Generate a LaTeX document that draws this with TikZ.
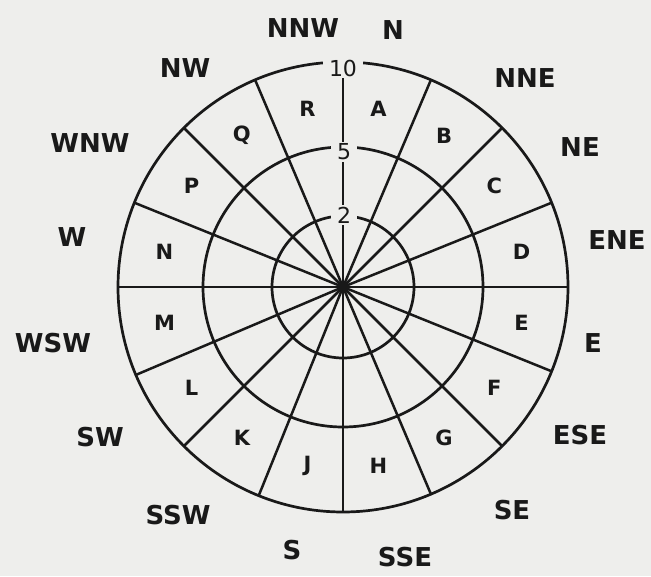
\documentclass[tikz,border=0pt]{standalone}
\usepackage{fontspec}
\setmainfont{DejaVu Sans}
\definecolor{bg}{RGB}{238,238,236}
\definecolor{ink}{RGB}{25,25,25}
\begin{document}
\begin{tikzpicture}[x=1pt,y=-1pt,
  ring/.style={draw=ink,line width=2.7pt,circle,inner sep=0pt,outer sep=0pt,minimum size=#1},
  spoke/.style={draw=ink,line width=2.5pt},
  sect/.style={text=ink,font=\fontsize{21}{21}\selectfont\bfseries,inner sep=0pt},
  dirlab/.style={text=ink,font=\fontsize{26}{26}\selectfont\bfseries,inner sep=0pt},
  scalelab/.style={text=ink,fill=bg,font=\fontsize{22}{22}\selectfont,inner xsep=6pt,inner ysep=2pt}]
\fill[bg] (0,0) rectangle (651,576);
\useasboundingbox (0,0) rectangle (651,576);
\coordinate (O) at (343,287);
\node[ring=142pt] (c2) at (O) {};
\node[ring=280pt] (c5) at (O) {};
\node[ring=450pt] (c10) at (O) {};
\foreach \k in {0,...,15}{
  \pgfmathsetmacro{\ang}{90-22.5*\k}
  \draw[spoke] (O) -- (c10.\ang);
}
% scale labels on the north spoke
\node[scalelab] (l10) at (343,68) {10};
\node[scalelab] (l5) at (344,152) {5};
\node[scalelab] (l2) at (344,215) {2};
% sector letters
\foreach \t [count=\i from 0] in {A,B,C,D,E,F,G,H,J,K,L,M,N,P,Q,R}{
  \pgfmathsetmacro{\a}{22.5*\i+11.25-90}
  \path (O) ++(\a:182) node[sect] (s\t) {\t};
}
% direction labels
\node[dirlab] (dNNW) at (303,28) {NNW};
\node[dirlab] (dN) at (393,30) {N};
\node[dirlab] (dNNE) at (525,78) {NNE};
\node[dirlab] (dNE) at (580,147) {NE};
\node[dirlab] (dENE) at (617,240) {ENE};
\node[dirlab] (dE) at (593,343) {E};
\node[dirlab] (dESE) at (580,435) {ESE};
\node[dirlab] (dSE) at (512,510) {SE};
\node[dirlab] (dSSE) at (405,557) {SSE};
\node[dirlab] (dS) at (292,550) {S};
\node[dirlab] (dSSW) at (178,515) {SSW};
\node[dirlab] (dSW) at (100,437) {SW};
\node[dirlab] (dWSW) at (53,343) {WSW};
\node[dirlab] (dW) at (72,237) {W};
\node[dirlab] (dWNW) at (90,143) {WNW};
\node[dirlab] (dNW) at (185,68) {NW};
\end{tikzpicture}
\end{document}
